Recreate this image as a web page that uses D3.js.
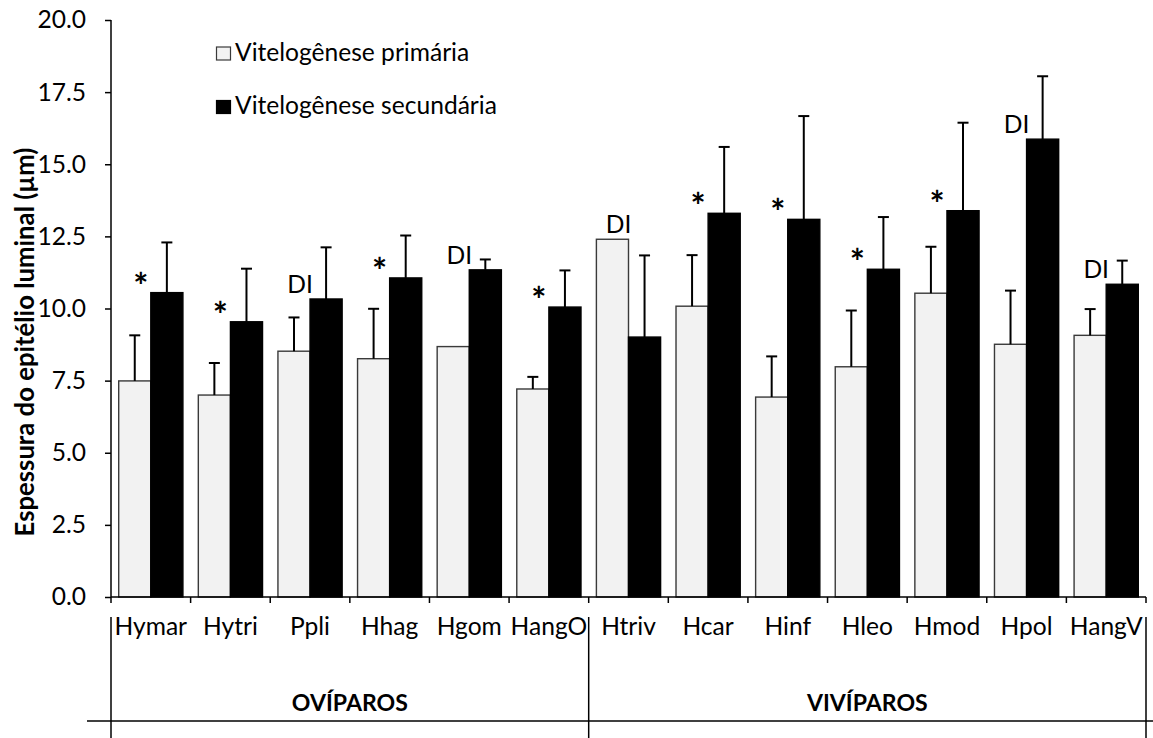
<!DOCTYPE html>
<html>
<head>
<meta charset="utf-8">
<script src="https://cdn.jsdelivr.net/npm/d3@7"></script>
<style>
  body { margin: 0; background: #fff; }
  svg { display: block; }
  text { font-family: Lato, "Open Sans", sans-serif; fill: #000; }
</style>
</head>
<body>
<svg id="chart" width="1153" height="738"></svg>
<script>
// Species (categories) along the x axis
const categories = ["Hymar", "Hytri", "Ppli", "Hhag", "Hgom", "HangO",
                    "Htriv", "Hcar", "Hinf", "Hleo", "Hmod", "Hpol", "HangV"];
// Reproductive-mode groups and how many species each one spans
const groups = ["OVÍPAROS", "VIVÍPAROS"];
const groupSizes = [6, 7];

const seriesNames = ["Vitelogênese primária", "Vitelogênese secundária"];

// Mean luminal epithelium thickness (µm) and upper error (SD)
const primary      = [7.49, 7.00, 8.52, 8.26, 8.68, 7.21, 12.40, 10.08, 6.93, 7.98, 10.53, 8.76, 9.07];
const primaryErr   = [1.58, 1.11, 1.17, 1.73, 0,    0.42, 0,     1.77,  1.41, 1.95, 1.61,  1.86, 0.91];
const secondary    = [10.55, 9.54, 10.33, 11.06, 11.34, 10.05, 9.01, 13.30, 13.09, 11.36, 13.39, 15.87, 10.84];
const secondaryErr = [1.74, 1.84, 1.79, 1.47, 0.36, 1.27, 2.83, 2.30, 3.58, 1.81, 3.05, 2.18, 0.82];

// Significance marks (* = significant, DI = insufficient data)
const marks = ["*", "*", "DI", "*", "DI", "*", "DI", "*", "*", "*", "*", "DI", "DI"];

const yTicks = [0, 2.5, 5, 7.5, 10, 12.5, 15, 17.5, 20];

const svg = d3.select("#chart");

// Size fonts so text runs match the original Calibri metrics
function fitSize(str, weight, target) {
  const t = svg.append("text").attr("font-size", 100).attr("font-weight", weight).text(str);
  const w = t.node().getComputedTextLength();
  t.remove();
  return 100 * target / w;
}
const fs = fitSize("Vitelogênese secundária", "normal", 262);
const fsTitle = fitSize("Espessura do epitélio luminal (µm)", "bold", 389);
const fsGroup = fitSize("OVÍPAROS", "bold", 116);
const fsStar = fs * 1.45;

const x0 = 111, x1 = 1146, yBase = 597, yTop = 20;

const y = d3.scaleLinear().domain([0, 20]).range([yBase, yTop]);
const x = d3.scaleBand().domain(categories).range([x0, x1]).padding(0);
const xs = d3.scaleBand().domain([0, 1]).range([0, x.bandwidth()]).paddingInner(0).paddingOuter(0.24);

const series = [
  { values: primary, errs: primaryErr, fill: "#f2f2f2", stroke: "#3a3a3a" },
  { values: secondary, errs: secondaryErr, fill: "#000", stroke: "#000" }
];

// Bars
series.forEach((s, si) => {
  svg.append("g").selectAll("rect").data(categories).join("rect")
    .attr("x", c => x(c) + xs(si))
    .attr("y", (c, i) => y(s.values[i]))
    .attr("width", xs.bandwidth())
    .attr("height", (c, i) => y(0) - y(s.values[i]))
    .attr("fill", s.fill)
    .attr("stroke", s.stroke)
    .attr("stroke-width", 1.4);
});

// Upper error bars
series.forEach((s, si) => {
  const g = svg.append("g").attr("stroke", "#000").attr("stroke-width", 2);
  categories.forEach((c, i) => {
    if (!s.errs[i]) return;
    const cx = x(c) + xs(si) + xs.bandwidth() / 2;
    const yv = y(s.values[i]), ye = y(s.values[i] + s.errs[i]);
    g.append("line").attr("x1", cx).attr("x2", cx).attr("y1", yv).attr("y2", ye);
    g.append("line").attr("x1", cx - 5.5).attr("x2", cx + 5.5).attr("y1", ye).attr("y2", ye);
  });
});

// Significance marks above each pair
svg.append("g").selectAll("text").data(categories).join("text")
  .attr("x", c => x(c) + xs(1) - 10)
  .attr("y", (c, i) => {
    const top = y(Math.max(primary[i], secondary[i]));
    return marks[i] === "*" ? top - 14 + 0.56 * fsStar : top - 6;
  })
  .attr("text-anchor", "middle")
  .attr("font-size", (c, i) => marks[i] === "*" ? fsStar : fs)
  .attr("font-weight", (c, i) => marks[i] === "*" ? "bold" : "normal")
  .text((c, i) => marks[i]);

// Y axis
const yAxis = svg.append("g").attr("transform", `translate(${x0},0)`)
  .call(d3.axisLeft(y).tickValues(yTicks).tickFormat(d3.format(".1f")).tickSize(6).tickPadding(19));
yAxis.select(".domain").attr("stroke", "#000").attr("stroke-width", 1.5).attr("d", `M0,${yTop}V${yBase}`);
yAxis.selectAll(".tick line").attr("stroke", "#000").attr("stroke-width", 1.5);
yAxis.selectAll(".tick text").attr("font-size", fs).attr("font-family", null).attr("fill", "#000");

// X axis line with ticks between categories
const xg = svg.append("g").attr("stroke", "#000").attr("stroke-width", 1.5);
xg.append("line").attr("x1", x0).attr("x2", x1).attr("y1", yBase).attr("y2", yBase);
const boundaries = categories.map(c => x(c)).concat([x.range()[1]]);
xg.selectAll(".xt").data(boundaries).join("line")
  .attr("x1", d => d).attr("x2", d => d).attr("y1", yBase).attr("y2", yBase + 6);

// Category labels
svg.append("g").selectAll("text").data(categories).join("text")
  .attr("x", c => x(c) + x.bandwidth() / 2)
  .attr("y", 635)
  .attr("text-anchor", "middle")
  .attr("font-size", fs)
  .text(c => c);

// Group separators and labels
let start = 0;
const groupEdges = [x(categories[0])];
groupSizes.forEach(n => { start += n; groupEdges.push(start < categories.length ? x(categories[start]) : x.range()[1]); });
const sep = svg.append("g").attr("stroke", "#000").attr("stroke-width", 1.5);
groupEdges.forEach(e => sep.append("line").attr("x1", e).attr("x2", e).attr("y1", 617).attr("y2", 738));
sep.append("line").attr("x1", 87).attr("x2", 1153).attr("y1", 721).attr("y2", 721);
groups.forEach((gname, gi) => {
  svg.append("text")
    .attr("x", (groupEdges[gi] + groupEdges[gi + 1]) / 2)
    .attr("y", 711)
    .attr("text-anchor", "middle")
    .attr("font-size", fsGroup)
    .attr("font-weight", "bold")
    .text(gname);
});

// Y axis title
svg.append("text")
  .attr("transform", "translate(34,342) rotate(-90)")
  .attr("text-anchor", "middle")
  .attr("font-size", fsTitle)
  .attr("font-weight", "bold")
  .text("Espessura do epitélio luminal (µm)");

// Legend
const legend = svg.append("g");
seriesNames.forEach((name, i) => {
  const cy = 53.5 + i * 53.5;
  legend.append("rect")
    .attr("x", 216.5).attr("y", cy - 6.5).attr("width", 14).attr("height", 13)
    .attr("fill", series[i].fill).attr("stroke", series[i].stroke).attr("stroke-width", 1.2);
  legend.append("text")
    .attr("x", 235).attr("y", cy + 7)
    .attr("font-size", fs)
    .text(name);
});
</script>
</body>
</html>
